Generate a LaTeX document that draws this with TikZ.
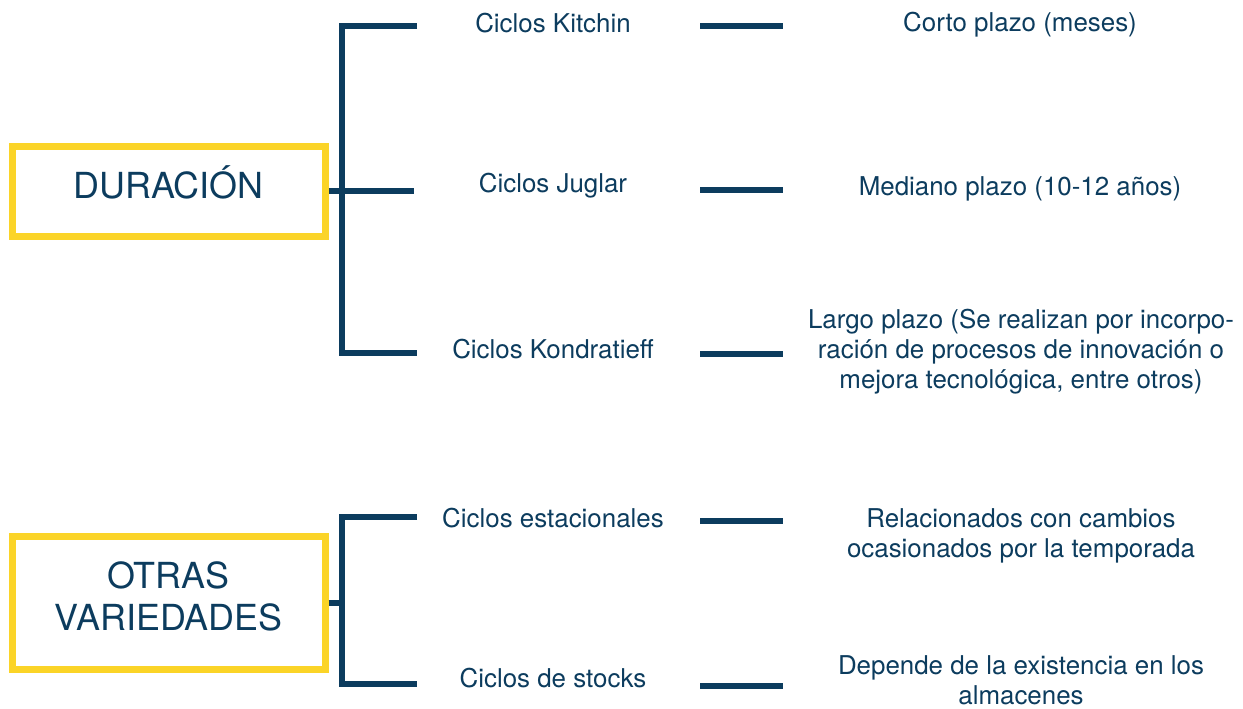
\documentclass[tikz,border=0pt]{standalone}
\usepackage{fontspec}
\setmainfont{TeX Gyre Heros}
\usetikzlibrary{positioning, calc}
\definecolor{azul}{HTML}{0C3C5E}
\definecolor{amarillo}{HTML}{FBD428}

\begin{document}
\begin{tikzpicture}[
    x=0.5pt, y=-0.5pt,
    every node/.style={text=azul, inner sep=0pt, font=\fontsize{12.95}{15}\selectfont}, % texto general
    caja/.style={draw=amarillo, line width=3.5pt, minimum width=156.5pt}, % recuadro amarillo
    titulo/.style={font=\fontsize{17.95}{21}\selectfont, align=center}, % texto del recuadro
    llave/.style={draw=azul, line width=3pt}, % corchete
    raya/.style={draw=azul, line width=3pt}, % guion corto
    desc/.style={align=center} % descripcion en varias lineas
]
    \useasboundingbox (0,0) rectangle (1243,708);

    % 1. recuadros de la izquierda
    \node[caja, minimum height=45pt] (dur) at (168.5,191) {};
    \node[titulo, anchor=base] (durtxt) at (168.5,198) {DURACIÓN};
    \node[caja, minimum height=66.5pt] (otr) at (168.5,602.5) {};
    \node[titulo] (otrtxt) at (168.5,596) {OTRAS\\VARIEDADES};

    % 2. tipos de ciclo
    \node[anchor=base] (kit) at (553,32) {Ciclos Kitchin};
    \node[anchor=base] (jug) at (553,192) {Ciclos Juglar};
    \node[anchor=base] (kon) at (553,358) {Ciclos Kondratieff};
    \node[anchor=base] (est) at (553,527) {Ciclos estacionales};
    \node[anchor=base] (sto) at (553,687) {Ciclos de stocks};

    % 3. descripciones
    \node[anchor=base] (corto) at (1020,31) {Corto plazo (meses)};
    \node[anchor=base] (medio) at (1020,195) {Mediano plazo (10-12 años)};
    \node[desc] (largo) at (1021,352) {Largo plazo (Se realizan por incorpo-\\ración de procesos de innovación o\\mejora tecnológica, entre otros)};
    \node[desc] (relac) at (1021,535.5) {Relacionados con cambios\\ocasionados por la temporada};
    \node[desc] (depen) at (1021,680) {Depende de la existencia en los\\almacenes};

    % 4. corchetes
    \coordinate (d1) at (417,26);
    \coordinate (d2) at (414,191);
    \coordinate (d3) at (417,353);
    \coordinate (dv) at ($(dur.east)+(13.5,0)$);
    \draw[llave] (d1) -| (dv) |- (d3);
    \draw[llave] (dur.east) -- (d2);

    \coordinate (o1) at (417,517);
    \coordinate (o2) at (417,684);
    \coordinate (ov) at ($(otr.east)+(13.5,0)$);
    \draw[llave] (o1) -| (ov) |- (o2);
    \draw[llave] (otr.east) -- (ov);

    % 5. guiones
    \foreach \n/\y in {1/26, 2/190, 3/354, 4/521, 5/686} {
        \coordinate (ga\n) at (700,\y);
        \coordinate (gb\n) at (783,\y);
        \draw[raya] (ga\n) -- (gb\n);
    }
\end{tikzpicture}
\end{document}
